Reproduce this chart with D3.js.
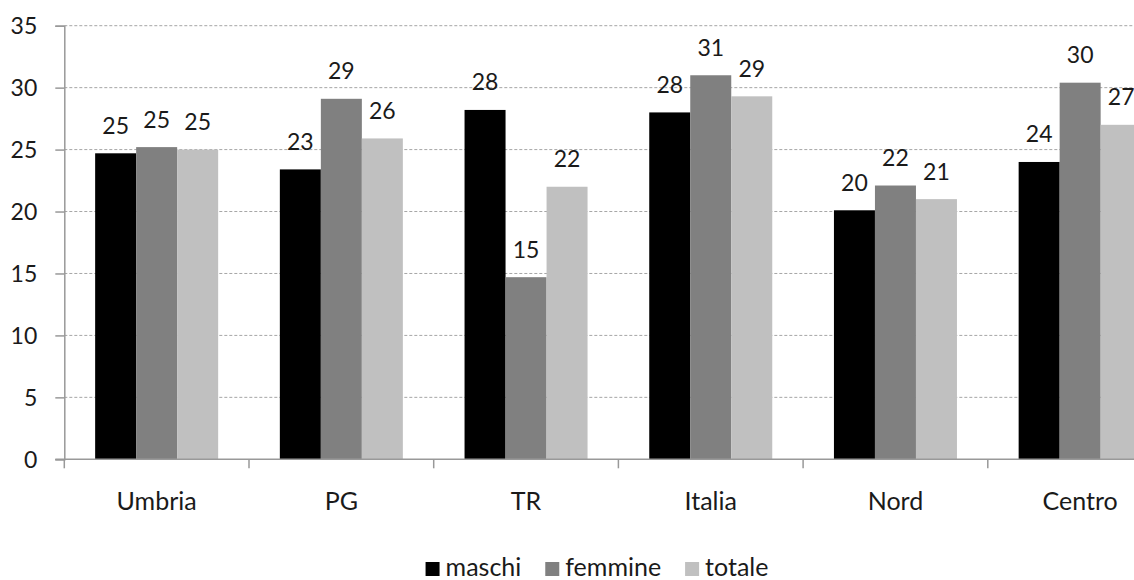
<!DOCTYPE html>
<html>
<head>
<meta charset="utf-8">
<script src="https://cdn.jsdelivr.net/npm/d3@7"></script>
<style>
  html, body { margin: 0; padding: 0; background: #fff; }
  svg { display: block; }
  text { font-family: Lato, "Liberation Sans", Arial, sans-serif; fill: #1a1a1a; }
</style>
</head>
<body>
<svg id="chart" width="1134" height="580"></svg>
<script>
// Categories and series
const categories = ["Umbria", "PG", "TR", "Italia", "Nord", "Centro"];
const seriesNames = ["maschi", "femmine", "totale"];
const maschi  = [24.7, 23.4, 28.2, 28.0, 20.1, 24.0];
const femmine = [25.2, 29.1, 14.7, 31.0, 22.1, 30.4];
const totale  = [25.0, 25.9, 22.0, 29.3, 21.0, 27.0];
const yTicks  = [0, 5, 10, 15, 20, 25, 30, 35];

const seriesValues = { maschi, femmine, totale };
const colors = { maschi: "#000000", femmine: "#808080", totale: "#c0c0c0" };
const FONT = "Lato, 'Liberation Sans', Arial, sans-serif";

const svg = d3.select("#chart");
const plotLeft = 64.3, plotRight = 1172.5, plotTop = 25.7, plotBottom = 459.3;

const x0 = d3.scaleBand().domain(categories).range([plotLeft, plotRight]).padding(0);
const groupPad = x0.bandwidth() * 0.167;
const x1 = d3.scaleBand().domain(seriesNames)
  .range([groupPad, x0.bandwidth() - groupPad]).padding(0);
const y = d3.scaleLinear().domain([0, 35]).range([plotBottom, plotTop]);

// Dashed horizontal gridlines
svg.append("g").selectAll("line")
  .data(yTicks.filter(t => t > 0))
  .join("line")
  .attr("x1", plotLeft).attr("x2", plotRight)
  .attr("y1", d => y(d)).attr("y2", d => y(d))
  .attr("stroke", "#a6a6a6").attr("stroke-width", 1)
  .attr("stroke-dasharray", "3,2");

// Bars
const groups = svg.append("g").selectAll("g")
  .data(categories)
  .join("g")
  .attr("transform", d => `translate(${x0(d)},0)`);

groups.selectAll("rect")
  .data((c, i) => seriesNames.map(s => ({ s, v: seriesValues[s][i] })))
  .join("rect")
  .attr("x", d => x1(d.s))
  .attr("width", x1.bandwidth())
  .attr("y", d => y(d.v))
  .attr("height", d => y(0) - y(d.v))
  .attr("fill", d => colors[d.s]);

// Value labels above bars
groups.selectAll("text.val")
  .data((c, i) => seriesNames.map(s => ({ s, v: seriesValues[s][i] })))
  .join("text")
  .attr("class", "val")
  .attr("x", d => x1(d.s) + x1.bandwidth() / 2)
  .attr("y", d => y(d.v) - 19.5)
  .attr("text-anchor", "middle")
  .attr("font-size", 23)
  .text(d => d3.format(".0f")(d.v));

// Y axis
const yAxis = svg.append("g")
  .attr("transform", `translate(${plotLeft},0)`)
  .call(d3.axisLeft(y).tickValues(yTicks).tickSize(9).tickPadding(18).tickFormat(d3.format("d")));
yAxis.select(".domain").attr("stroke", "#999").attr("stroke-width", 1.5);
yAxis.selectAll(".tick line").attr("stroke", "#999").attr("stroke-width", 1.5);
yAxis.selectAll(".tick text")
  .attr("font-size", 23).attr("font-family", FONT)
  .attr("fill", "#1a1a1a").attr("dy", "0.36em");

// X axis with ticks at category boundaries
const xAxis = svg.append("g")
  .attr("transform", `translate(0,${plotBottom})`);
xAxis.append("line")
  .attr("x1", plotLeft - 9).attr("x2", plotRight)
  .attr("stroke", "#999").attr("stroke-width", 1.5);
xAxis.selectAll("line.tk")
  .data(categories)
  .join("line")
  .attr("class", "tk")
  .attr("x1", d => x0(d)).attr("x2", d => x0(d))
  .attr("y1", 0).attr("y2", 9)
  .attr("stroke", "#999").attr("stroke-width", 1.5);
xAxis.selectAll("text")
  .data(categories)
  .join("text")
  .attr("x", d => x0(d) + x0.bandwidth() / 2)
  .attr("y", 51)
  .attr("text-anchor", "middle")
  .attr("font-size", 25)
  .text(d => d);

// Legend
const legend = svg.append("g");
let lx = 0;
seriesNames.forEach(s => {
  const item = legend.append("g").attr("transform", `translate(${lx},0)`);
  item.append("rect").attr("x", 0).attr("y", -14).attr("width", 14).attr("height", 14)
    .attr("fill", colors[s]);
  const t = item.append("text").attr("x", 20).attr("y", 0).attr("font-size", 25).text(s);
  lx += 20 + t.node().getComputedTextLength() + 24;
});
const legendWidth = lx - 24;
legend.attr("transform", `translate(${597 - legendWidth / 2},576)`);
</script>
</body>
</html>
